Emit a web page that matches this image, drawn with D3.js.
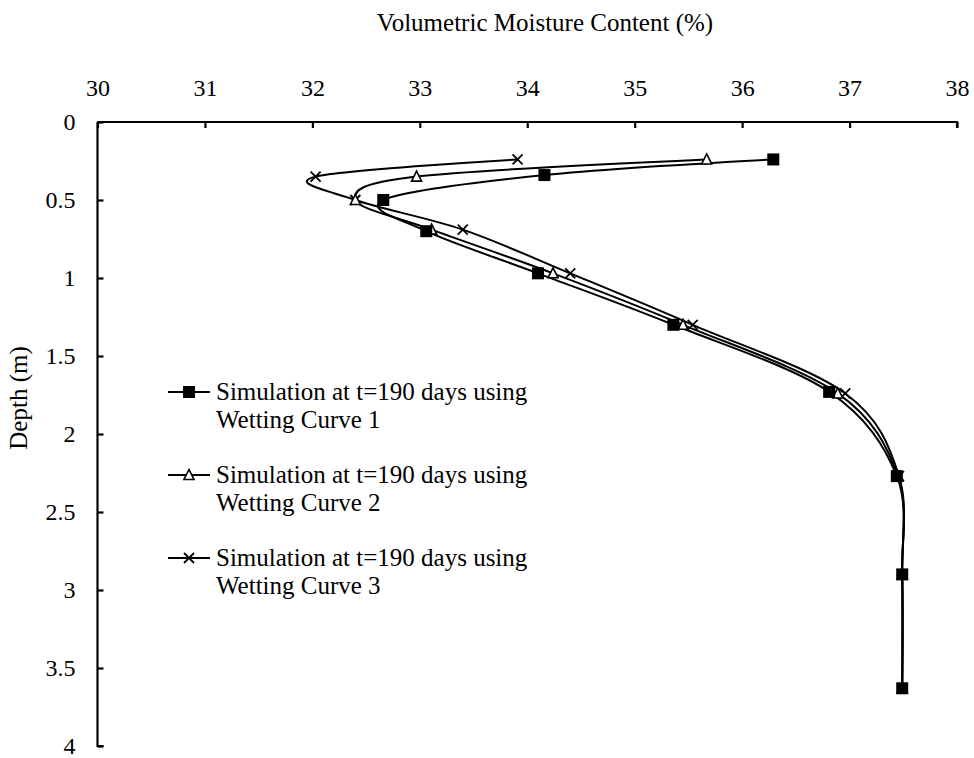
<!DOCTYPE html>
<html><head><meta charset="utf-8">
<script src="https://cdn.jsdelivr.net/npm/d3@7"></script>
<style>body{margin:0;background:#fff}svg{display:block}text{font-family:"Liberation Serif","Times New Roman",serif;fill:#000}</style>
</head><body>
<svg id="c" width="974" height="758"></svg>
<script>
const depths1 = [0.24, 0.34, 0.50, 0.70, 0.97, 1.30, 1.73, 2.27, 2.90, 3.63];
const curve1 = [36.29, 34.16, 32.66, 33.06, 34.10, 35.36, 36.81, 37.44, 37.49, 37.49];
const depths2 = [0.24, 0.35, 0.50, 0.69, 0.97, 1.30, 1.74, 2.27, 2.90, 3.63];
const curve2 = [35.67, 32.97, 32.40, 33.11, 34.24, 35.45, 36.89, 37.45, 37.49, 37.49];
const depths3 = [0.24, 0.35, 0.50, 0.69, 0.97, 1.30, 1.74, 2.27, 2.90, 3.63];
const curve3 = [33.91, 32.03, 32.40, 33.40, 34.40, 35.54, 36.96, 37.46, 37.49, 37.49];
const xTicks = [30, 31, 32, 33, 34, 35, 36, 37, 38];
const yTicks = [0, 0.5, 1, 1.5, 2, 2.5, 3, 3.5, 4];
const legendLabels = [["Simulation at t=190 days using", "Wetting Curve 1"],
                      ["Simulation at t=190 days using", "Wetting Curve 2"],
                      ["Simulation at t=190 days using", "Wetting Curve 3"]];
const markers = ["square", "triangle", "cross"];

const svg = d3.select("#c");
const x = d3.scaleLinear().domain([30, 38]).range([97.5, 957]);
const y = d3.scaleLinear().domain([0, 4]).range([122, 746]);

// axes
const xAxis = d3.axisTop(x).tickValues(xTicks).tickSize(-6).tickPadding(26).tickFormat(d3.format("d"));
const gx = svg.append("g").attr("transform", `translate(0,${y(0)})`).call(xAxis);
gx.select(".domain").attr("stroke-width", 2.2).attr("d", `M${x(30)},0H${x(38)}V6`);
gx.selectAll(".tick line").attr("stroke-width", 2.2);
gx.selectAll(".tick text").attr("font-size", 24).attr("font-family", "Liberation Serif");

const yAxis = d3.axisLeft(y).tickValues(yTicks).tickSize(-6).tickPadding(22).tickFormat(d => d3.format("")(d));
const gy = svg.append("g").attr("transform", `translate(${x(30)},0)`).call(yAxis);
gy.select(".domain").attr("stroke-width", 2.2).attr("d", `M0,${y(0)}V${y(4)}H6`);
gy.selectAll(".tick line").attr("stroke-width", 2.2);
gy.selectAll(".tick text").attr("font-size", 24).attr("font-family", "Liberation Serif");

svg.append("text").attr("x", 545).attr("y", 31).attr("text-anchor", "middle")
  .attr("font-size", 25).text("Volumetric Moisture Content (%)");
svg.append("text").attr("transform", "translate(27,398) rotate(-90)").attr("text-anchor", "middle")
  .attr("font-size", 25).text("Depth (m)");

const series = [
  {d: depths1, v: curve1, m: "square"},
  {d: depths2, v: curve2, m: "triangle"},
  {d: depths3, v: curve3, m: "cross"}
];
const line = d3.line().x(p => x(p[0])).y(p => y(p[1])).curve(d3.curveCatmullRom.alpha(0));

function drawMarker(g, type, cx, cy) {
  if (type === "square") {
    g.append("rect").attr("x", cx - 6).attr("y", cy - 6).attr("width", 12).attr("height", 12).attr("fill", "#000");
  } else if (type === "triangle") {
    const s = 10, h = 9;
    g.append("path").attr("d", `M${cx},${cy - h/2 - 1}L${cx + s/2},${cy + h/2}L${cx - s/2},${cy + h/2}Z`)
      .attr("fill", "#fff").attr("stroke", "#000").attr("stroke-width", 1.6);
  } else {
    const r = 5;
    g.append("path").attr("d", `M${cx - r},${cy - r}L${cx + r},${cy + r}M${cx - r},${cy + r}L${cx + r},${cy - r}`)
      .attr("stroke", "#000").attr("stroke-width", 1.8).attr("fill", "none");
  }
}

series.slice().reverse().forEach(s => {
  const pts = s.v.map((v, i) => [v, s.d[i]]);
  svg.append("path").attr("d", line(pts)).attr("fill", "none").attr("stroke", "#000").attr("stroke-width", 2);
});
series.slice().reverse().forEach(s => {
  const g = svg.append("g");
  s.v.forEach((v, i) => drawMarker(g, s.m, x(v), y(s.d[i])));
});

// legend
const leg = svg.append("g");
legendLabels.forEach((lab, i) => {
  const ly = 392 + i * 83;
  leg.append("line").attr("x1", 168).attr("x2", 210).attr("y1", ly).attr("y2", ly).attr("stroke", "#000").attr("stroke-width", 2);
  drawMarker(leg, markers[i], 189, ly);
  leg.append("text").attr("x", 216).attr("y", ly + 8).attr("font-size", 25).text(lab[0]);
  leg.append("text").attr("x", 216).attr("y", ly + 36).attr("font-size", 25).text(lab[1]);
});
</script>
</body></html>
